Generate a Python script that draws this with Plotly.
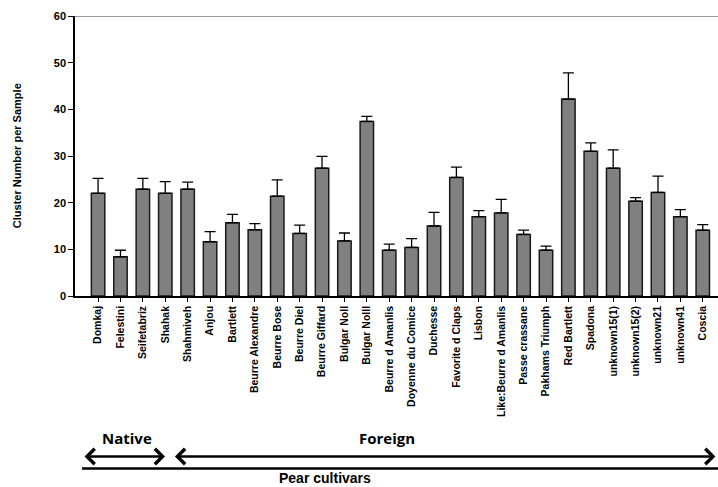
import plotly.graph_objects as go

cultivars = ["Domkaj", "Felestini", "Seifetabriz", "Shahak", "Shahmiveh", "Anjou", "Bartlett",
             "Beurre Alexandre", "Beurre Bose", "Beurre Diel", "Beurre Giffard", "Bulgar Noll",
             "Bulgar Nolll", "Beurre d Amanlis", "Doyenne du Comice", "Duchesse", "Favorite d Claps",
             "Lisbon", "Like:Beurre d Amanlis", "Passe crassane", "Pakhams Triumph", "Red Bartlett",
             "Spadona", "unknown15(1)", "unknown15(2)", "unknown21", "unknown41", "Coscia"]
means = [22.0, 8.4, 22.9, 22.0, 22.9, 11.6, 15.7, 14.2, 21.4, 13.4, 27.4, 11.8, 37.4, 9.8,
         10.4, 15.0, 25.4, 17.0, 17.8, 13.2, 9.8, 42.2, 31.0, 27.4, 20.3, 22.2, 17.0, 14.1]
err_up = [3.2, 1.4, 2.3, 2.5, 1.5, 2.2, 1.8, 1.3, 3.5, 1.8, 2.5, 1.7, 1.1, 1.3,
          1.9, 2.9, 2.2, 1.3, 2.9, 0.9, 0.9, 5.6, 1.8, 3.9, 0.8, 3.5, 1.5, 1.2]
y_ticks = [0, 10, 20, 30, 40, 50, 60]

fig = go.Figure(go.Bar(
    x=cultivars, y=means, width=0.6,
    marker=dict(color="#808080", line=dict(color="#1a1a1a", width=1.5)),
    error_y=dict(type="data", array=err_up, arrayminus=[0] * len(err_up), symmetric=False,
                 color="#000000", thickness=1.3, width=5.5),
))

bold = dict(family="Liberation Sans, Arial, sans-serif", color="#000000", weight="bold")
calib = dict(family="Open Sans, Liberation Sans", color="#000000", weight="bold", size=15)
fig.update_layout(
    width=718, height=487, margin=dict(l=75, r=0, t=16, b=191),
    plot_bgcolor="white", paper_bgcolor="white", showlegend=False,
    xaxis=dict(type="category", range=[-1.03, 27.68], showline=True, linecolor="#000", linewidth=1.5,
               ticks="outside", ticklen=4, tickcolor="#000", tickangle=-90,
               tickfont=dict(size=10.5, **bold), showgrid=False),
    yaxis=dict(range=[0, 60], tickvals=y_ticks, showline=True, linecolor="#000", linewidth=1.5,
               ticks="outside", ticklen=5, tickcolor="#000", tickfont=dict(size=11, **bold),
               showgrid=False, zeroline=False),
    shapes=[
        dict(type="line", xref="paper", yref="y", x0=0, x1=1, y0=60, y1=60,
             line=dict(color="#777", width=1.5)),
        dict(type="line", xref="paper", yref="paper", x0=0.0109, x1=1.0, y0=-0.616, y1=-0.616,
             line=dict(color="#000", width=2.5)),
    ],
    annotations=[
        dict(text="Cluster Number per Sample", xref="paper", yref="paper", x=-0.090, y=0.5,
             xanchor="center", yanchor="middle",
             textangle=-90, showarrow=False, font=dict(size=11, **bold)),
        dict(text="Native", xref="paper", yref="paper", x=0.0809, y=-0.5066,
             xanchor="center", yanchor="middle", showarrow=False, font=calib),
        dict(text="Foreign", xref="paper", yref="paper", x=0.485, y=-0.5066,
             xanchor="center", yanchor="middle", showarrow=False, font=calib),
        dict(text="Pear cultivars", xref="paper", yref="paper", x=0.389, y=-0.651,
             xanchor="center", yanchor="middle", showarrow=False, font=dict(size=14, **bold)),
        dict(text="", xref="paper", yref="paper", x=0.140, y=-0.5733, ax=-82, ay=0,
             axref="pixel", ayref="pixel", showarrow=True, arrowside="end+start",
             arrowhead=4, arrowsize=1.2, arrowwidth=2.5, arrowcolor="#000"),
        dict(text="", xref="paper", yref="paper", x=0.996, y=-0.5733, ax=-542, ay=0,
             axref="pixel", ayref="pixel", showarrow=True, arrowside="end+start",
             arrowhead=4, arrowsize=1.2, arrowwidth=2.5, arrowcolor="#000"),
    ],
)

fig.write_html("out.html", config={"displayModeBar": False},
               post_script="document.body.style.margin='0';")
